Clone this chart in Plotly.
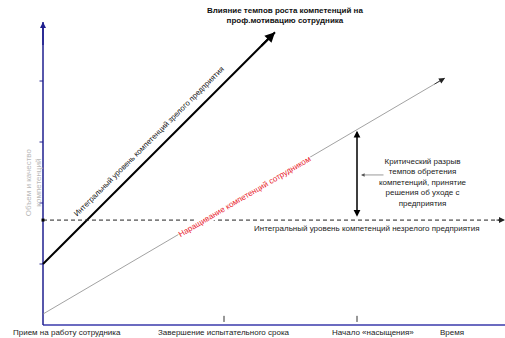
import plotly.graph_objects as go

# ---- data (time units on x, competence units on y) ----
mature_x = [0.0, 2.32]
mature_y = [1.0, 4.80]
employee_x = [0.0, 4.02]
employee_y = [0.18, 4.05]
immature_level = 1.72
x_end = 4.62
y_top = 4.967
y_ticks = [1, 2, 3, 4]
event_ticks = [1.81, 3.14]          # end of probation, start of saturation
gap_x = 3.14
x_labels = ["Прием на работу сотрудника", "Завершение испытательного срока",
            "Начало «насыщения»", "Время"]
title_text = "Влияние темпов роста компетенций на<br>проф.мотивацию сотрудника"
y_title = "Объем и качество<br>компетенций"
mature_label = "Интегральный уровень компетенций зрелого предприятия"
employee_label = "Наращивание компетенций сотрудником"
immature_label = "Интегральный уровень компетенций незрелого предприятия"
gap_label = ("Критический разрыв<br>темпов обретения<br>компетенций, принятие"
             "<br>решения об уходе с<br>предприятия")

FONT = "Liberation Sans, Arial, sans-serif"

def emp_at(x):
    return employee_y[0] + (employee_y[1] - employee_y[0]) * (x - employee_x[0]) / (employee_x[1] - employee_x[0])

fig = go.Figure()

def seg(xs, ys, color, width, dash=None):
    fig.add_trace(go.Scatter(x=xs, y=ys, mode="lines", hoverinfo="skip",
                             line=dict(color=color, width=width, dash=dash)))

# axes
seg([0, x_end], [0, 0], "#6b6bc0", 2)
seg([0, 0], [0, y_top], "#1f1f8f", 1.5)
for t in y_ticks:
    seg([-0.035, 0], [t, t], "#1f1f8f", 1)

# mature enterprise line
seg(mature_x, mature_y, "black", 2)
# employee growth line
seg(employee_x, employee_y, "#8a8a8a", 0.8)
# immature level dashed
seg([0, x_end], [immature_level, immature_level], "#222222", 1, "4px,3px")
fig.add_trace(go.Scatter(x=[0], y=[immature_level], mode="markers", hoverinfo="skip",
                         marker=dict(color="black", size=3, symbol="square")))
# event tick marks on time axis
for ex in event_ticks:
    seg([ex, ex], [0.05, 0.15], "#333333", 1)

ann = []
def arrow(x, y, ax, ay, color="black", width=1, head=2, size=1, side="end"):
    ann.append(dict(x=x, y=y, ax=ax, ay=ay, xref="x", yref="y", axref="x", ayref="y",
                    showarrow=True, arrowhead=head, arrowsize=size, arrowwidth=width,
                    arrowcolor=color, arrowside=side, text=""))

dx = mature_x[1] - mature_x[0]; dy = mature_y[1] - mature_y[0]
arrow(mature_x[1], mature_y[1], mature_x[1] - 0.15, mature_y[1] - 0.15 * dy / dx, width=2, size=1)
edx = employee_x[1] - employee_x[0]; edy = employee_y[1] - employee_y[0]
arrow(employee_x[1], employee_y[1], employee_x[1] - 0.12, employee_y[1] - 0.12 * edy / edx, color="#222", width=0.8, size=1.5)
arrow(x_end, immature_level, x_end - 0.1, immature_level, color="#222", width=1, size=1.2)
arrow(0, y_top, 0, y_top - 0.4, color="#1f1f8f", width=1.5, size=0.8)
arrow(gap_x, emp_at(gap_x) - 0.02, gap_x, immature_level + 0.03, width=1.5, head=2, size=0.9, side="end+start")
ann.append(dict(x=gap_x + 0.04, y=2.46, ax=gap_x + 0.28, ay=2.46, xref="x", yref="y", axref="x", ayref="y",
                showarrow=True, arrowhead=2, arrowsize=1.2, arrowwidth=0.6, arrowcolor="#555", text=""))

def txt(x, y, s, size=8, color="#222", angle=0, bold=False, bg=None):
    d = dict(x=x, y=y, xref="x", yref="y", text=("<b>%s</b>" % s) if bold else s, showarrow=False,
             font=dict(family=FONT, size=size, color=color), textangle=angle,
             xanchor="center", yanchor="middle")
    if bg:
        d["bgcolor"] = bg
        d["borderpad"] = 0
    ann.append(d)

txt(2.42, 5.08, title_text, size=8, color="#111", bold=True)
txt(-0.10, 2.34, y_title, size=8, color="#b8b8b8", angle=-90)
txt(1.06, 3.005, mature_label, size=7.7, color="#111", angle=-45)
txt(2.02, 2.10, employee_label, size=8, color="#e8202a", angle=-30.4, bg="white")
txt(3.24, 1.59, immature_label, size=8, color="#222")
txt(3.80, 2.34, gap_label, size=8, color="#222")
label_pos = [0.24, 1.81, 3.30, 4.09]
for lx, s in zip(label_pos, x_labels):
    txt(lx, -0.13, s, size=8, color="#222")

fig.update_layout(
    width=505, height=338,
    margin=dict(l=0, r=0, t=0, b=0),
    paper_bgcolor="white", plot_bgcolor="white",
    showlegend=False,
    annotations=ann,
    xaxis=dict(range=[-0.43, 4.62], visible=False),
    yaxis=dict(range=[-13 / 61, 325 / 61], visible=False),
)
fig.update_traces(cliponaxis=False)

fig.write_html("out.html", config={"displayModeBar": False},
               post_script="document.body.style.margin='0';")
